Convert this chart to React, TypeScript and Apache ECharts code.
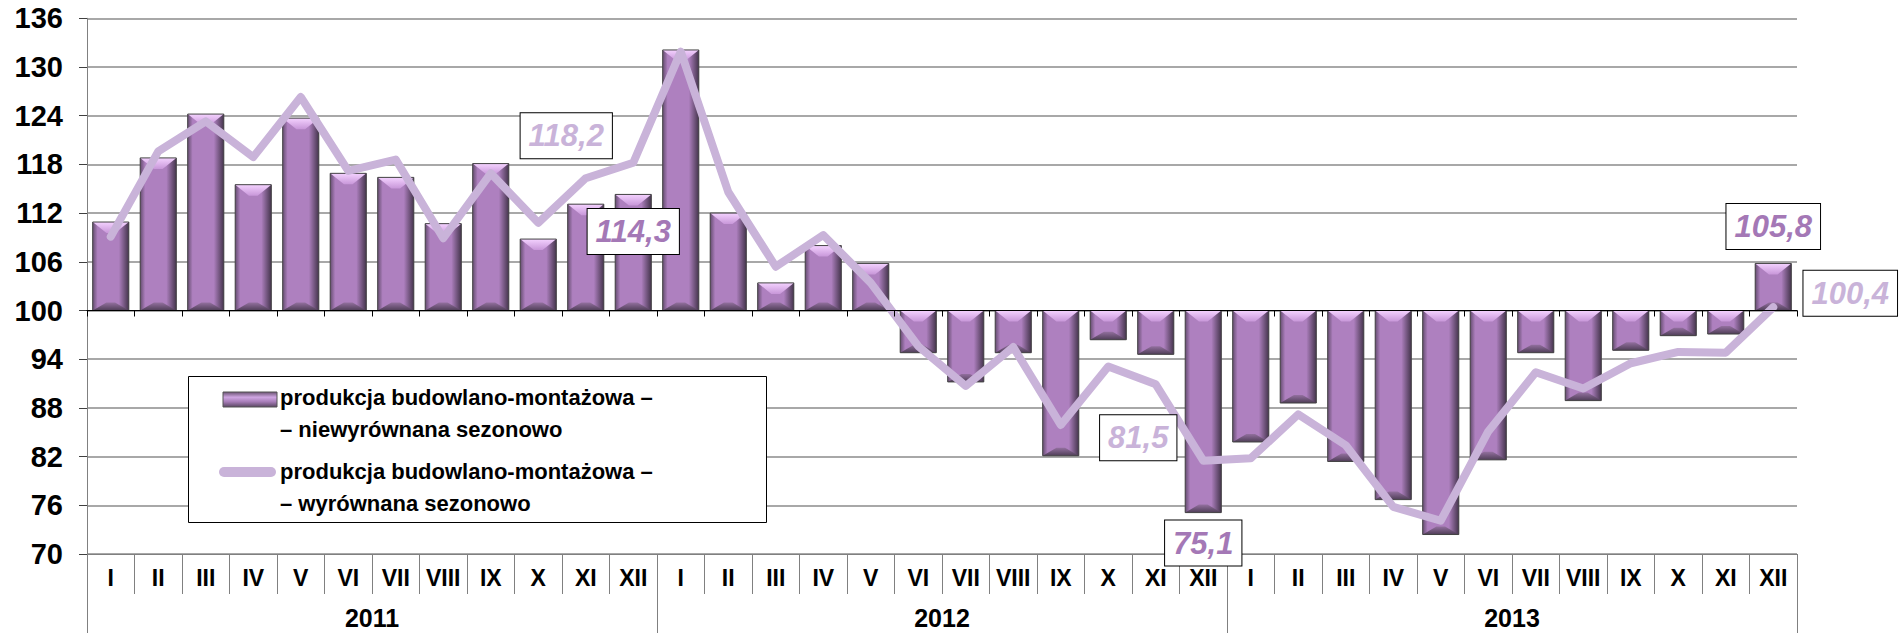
import React, { useEffect, useRef } from "react";
import * as echarts from "echarts";

const months = ["I", "II", "III", "IV", "V", "VI", "VII", "VIII", "IX", "X", "XI", "XII"];
const years = ["2011", "2012", "2013"];
const categories = years.flatMap((y) => months.map((m) => `${m}|${y}`));

const BASE = 100;
const yMin = 70;
const yMax = 136;
const yStep = 6;

// produkcja budowlano-montażowa – niewyrównana sezonowo
const barValues = [
  110.9, 118.8, 124.2, 115.5, 123.7, 116.9, 116.4, 110.7, 118.1, 108.8, 113.1, 114.3,
  132.1, 112.0, 103.4, 108.0, 105.8, 94.8, 91.2, 94.8, 82.1, 96.4, 94.6, 75.1,
  83.8, 88.6, 81.4, 76.7, 72.4, 81.6, 94.8, 88.9, 95.1, 96.9, 97.1, 105.8,
];

// produkcja budowlano-montażowa – wyrównana sezonowo
const lineValues = [
  109.1, 119.6, 123.3, 118.9, 126.3, 117.2, 118.6, 108.9, 116.9, 110.8, 116.3, 118.2,
  131.9, 114.6, 105.4, 109.3, 103.4, 95.6, 90.7, 95.5, 85.9, 93.1, 90.9, 81.5,
  81.8, 87.2, 83.4, 75.8, 74.1, 85.1, 92.4, 90.4, 93.5, 94.9, 94.8, 100.4,
];

const legendLines1 = ["produkcja budowlano-montażowa –", "– niewyrównana sezonowo"];
const legendLines2 = ["produkcja budowlano-montażowa –", "– wyrównana sezonowo"];
const barName = legendLines1.join("\n");
const lineName = legendLines2.join("\n");

// labelled points (index) and their label placement (label centre relative to the point)
const barLabelIdx = [11, 23, 35];
const barLabelDy = [37, 30.5, -37];
const lineLabelIdx = [11, 23, 35];
const lineLabelShift = [
  [-67, -27],
  [-65, -23],
  [77, -14],
];

const FONT = "'Liberation Sans', Arial, Helvetica, sans-serif";
const LINE_COLOR = "#c9b3d9";
const BAR_LABEL_COLOR = "#a478b6";
const SYMBOL_SIZE = 2;

const fmt = (v: number) => String(v.toFixed(1)).replace(".", ",");

export default function App() {
  const ref = useRef<HTMLDivElement>(null);

  useEffect(() => {
    if (!ref.current) return;
    const chart = echarts.init(ref.current, null, { renderer: "svg" });

    const gridTop = 18.3;
    const gridBottom = 79;
    const plotH = 633 - gridTop - gridBottom;
    const baseY = gridTop + (plotH * (yMax - BASE)) / (yMax - yMin);

    const renderBar = (params: any, api: any) => {
      const i = api.value(0);
      const v = api.value(1);
      const pTop = api.coord([i, Math.max(v, BASE)]);
      const pBot = api.coord([i, Math.min(v, BASE)]);
      const w = api.size([1, 0])[0] * 0.76;
      const x0 = pTop[0] - w / 2;
      const x1 = x0 + w;
      const y0 = pTop[1];
      const y1 = pBot[1];
      const h = y1 - y0;
      const d = Math.min(11, h / 2);
      const db = Math.min(8, h / 2);
      const ins = w * 0.38;
      const children: any[] = [
        { type: "rect", shape: { x: x0, y: y0, width: w, height: h }, style: { fill: "#ae80bf" } },
        {
          type: "rect",
          shape: { x: x0, y: y0, width: 5, height: h },
          style: {
            fill: { type: "linear", x: 0, y: 0, x2: 1, y2: 0, colorStops: [{ offset: 0, color: "#654d70" }, { offset: 1, color: "#ae80bf" }] },
          },
        },
        {
          type: "rect",
          shape: { x: x1 - 10, y: y0, width: 10, height: h },
          style: {
            fill: { type: "linear", x: 0, y: 0, x2: 1, y2: 0, colorStops: [{ offset: 0, color: "#ae80bf" }, { offset: 1, color: "#45354d" }] },
          },
        },
        {
          type: "polygon",
          shape: { points: [[x0, y0], [x1, y0], [x1 - ins, y0 + d], [x0 + ins, y0 + d]] },
          style: {
            fill: { type: "linear", x: 0, y: 0, x2: 0, y2: 1, colorStops: [{ offset: 0, color: "#f4d2ff" }, { offset: 1, color: "#c897d9" }] },
          },
        },
        {
          type: "polygon",
          shape: { points: [[x0, y1], [x1, y1], [x1 - ins, y1 - db], [x0 + ins, y1 - db]] },
          style: {
            fill: { type: "linear", x: 0, y: 0, x2: 0, y2: 1, colorStops: [{ offset: 0, color: "#93709f" }, { offset: 1, color: "#4f3e57" }] },
          },
        },
        {
          type: "rect",
          shape: { x: x0, y: y0, width: w, height: h },
          style: { fill: "none", stroke: "#444444", lineWidth: 1 },
        },
      ];
      const li = barLabelIdx.indexOf(i);
      if (li >= 0) {
        const endY = v >= BASE ? y0 : y1;
        children.push({
          type: "text",
          z2: 100,
          style: {
            text: fmt(v),
            x: pTop[0],
            y: endY + barLabelDy[li],
            align: "center",
            verticalAlign: "middle",
            font: `italic bold 31px ${FONT}`,
            fill: BAR_LABEL_COLOR,
            backgroundColor: "#ffffff",
            borderColor: "#000000",
            borderWidth: 1,
            padding: [5, 8, 4, 8],
            lineHeight: 36,
          },
        });
      }
      return { type: "group", children };
    };

    const legendX = 188.5;
    const legendY = 376.5;
    const textX = 280;
    const legendFont = `bold 22px ${FONT}`;
    const textY = [397, 429, 471, 503];
    const legendTexts = [...legendLines1, ...legendLines2];

    const graphic: any[] = [
      {
        type: "rect",
        z: 100,
        shape: { x: legendX, y: legendY, width: 578, height: 146 },
        style: { fill: "#ffffff", stroke: "#000000", lineWidth: 1 },
      },
      {
        type: "rect",
        z: 101,
        shape: { x: 223, y: 392, width: 54, height: 15 },
        style: {
          fill: {
            type: "linear", x: 0, y: 0, x2: 0, y2: 1,
            colorStops: [
              { offset: 0, color: "#6a5272" },
              { offset: 0.35, color: "#cfa6e2" },
              { offset: 0.65, color: "#a77db8" },
              { offset: 1, color: "#5a4662" },
            ],
          },
          stroke: "#555555",
          lineWidth: 1,
        },
      },
      {
        type: "line",
        z: 101,
        shape: { x1: 224, y1: 472, x2: 271, y2: 472 },
        style: { stroke: LINE_COLOR, lineWidth: 10, lineCap: "round" },
      },
      ...legendTexts.map((t, k) => ({
        type: "text",
        z: 101,
        style: { text: t, x: textX, y: textY[k], verticalAlign: "middle", font: legendFont, fill: "#000" },
      })),
    ];

    const option: any = {
      animation: false,
      backgroundColor: "#ffffff",
      grid: [
        { left: 87, right: 102, top: gridTop, bottom: gridBottom },
        { left: 87, right: 102, top: gridTop, bottom: 633 - baseY },
      ],
      xAxis: [
        {
          type: "category",
          gridIndex: 0,
          data: categories,
          position: "bottom",
          boundaryGap: true,
          axisLine: { show: true, lineStyle: { color: "#808080", width: 1 } },
          axisTick: { show: true, interval: 0, length: 40, lineStyle: { color: "#808080", width: 1 } },
          axisLabel: {
            interval: 0,
            margin: 12,
            formatter: (v: string) => v.split("|")[0],
            fontFamily: FONT,
            fontWeight: "bold",
            fontSize: 23,
            color: "#000000",
          },
          splitLine: { show: false },
        },
        {
          type: "category",
          gridIndex: 0,
          data: years,
          position: "bottom",
          offset: 0,
          boundaryGap: true,
          axisLine: { show: false },
          axisTick: { show: true, interval: 0, length: 80, lineStyle: { color: "#808080", width: 1 } },
          axisLabel: {
            interval: 0,
            margin: 51,
            fontFamily: FONT,
            fontWeight: "bold",
            fontSize: 25,
            color: "#000000",
          },
          splitLine: { show: false },
        },
        {
          type: "category",
          gridIndex: 1,
          data: categories,
          position: "bottom",
          boundaryGap: true,
          axisLine: { show: true, lineStyle: { color: "#000000", width: 1 } },
          axisTick: { show: true, interval: 0, length: 6, lineStyle: { color: "#000000", width: 1 } },
          axisLabel: { show: false },
          splitLine: { show: false },
          z: 5,
        },
      ],
      yAxis: [
        {
          type: "value",
          gridIndex: 0,
          min: yMin,
          max: yMax,
          interval: yStep,
          axisLine: { show: true, lineStyle: { color: "#808080", width: 1 } },
          axisTick: { show: true, length: 8, lineStyle: { color: "#404040", width: 1 } },
          axisLabel: {
            margin: 24,
            fontFamily: FONT,
            fontWeight: "bold",
            fontSize: 29,
            color: "#000000",
          },
          splitLine: { show: true, lineStyle: { color: "#a8a8a8", width: 2 } },
        },
        {
          type: "value",
          gridIndex: 1,
          min: BASE,
          max: yMax,
          show: false,
        },
      ],
      series: [
        {
          name: barName,
          type: "custom",
          xAxisIndex: 0,
          yAxisIndex: 0,
          renderItem: renderBar,
          encode: { x: 0, y: 1 },
          data: barValues.map((v, i) => [i, v]),
          z: 2,
        },
        {
          name: lineName,
          type: "line",
          xAxisIndex: 0,
          yAxisIndex: 0,
          showSymbol: true,
          showAllSymbol: true,
          symbol: "circle",
          symbolSize: SYMBOL_SIZE,
          z: 3,
          lineStyle: { color: LINE_COLOR, width: 8, join: "round", cap: "round" },
          itemStyle: { color: LINE_COLOR, borderWidth: 0 },
          data: lineValues.map((v, i) => {
            const li = lineLabelIdx.indexOf(i);
            if (li < 0) return v;
            const s = lineLabelShift[li];
            return {
              value: v,
              label: {
                show: true,
                position: [s[0] + SYMBOL_SIZE / 2, s[1] + SYMBOL_SIZE / 2],
                align: "center",
                verticalAlign: "middle",
                formatter: (p: any) => fmt(p.value),
                fontFamily: FONT,
                fontStyle: "italic",
                fontWeight: "bold",
                fontSize: 31,
                lineHeight: 36,
                color: LINE_COLOR,
                backgroundColor: "#ffffff",
                borderColor: "#000000",
                borderWidth: 1,
                padding: [5, 8, 4, 8],
              },
            };
          }),
        },
      ],
      graphic,
    };

    chart.setOption(option);
    return () => chart.dispose();
  }, []);

  return (
    <div
      ref={ref}
      style={{ position: "fixed", left: 0, top: 0, width: 1899, height: 633, background: "#fff" }}
    />
  );
}
